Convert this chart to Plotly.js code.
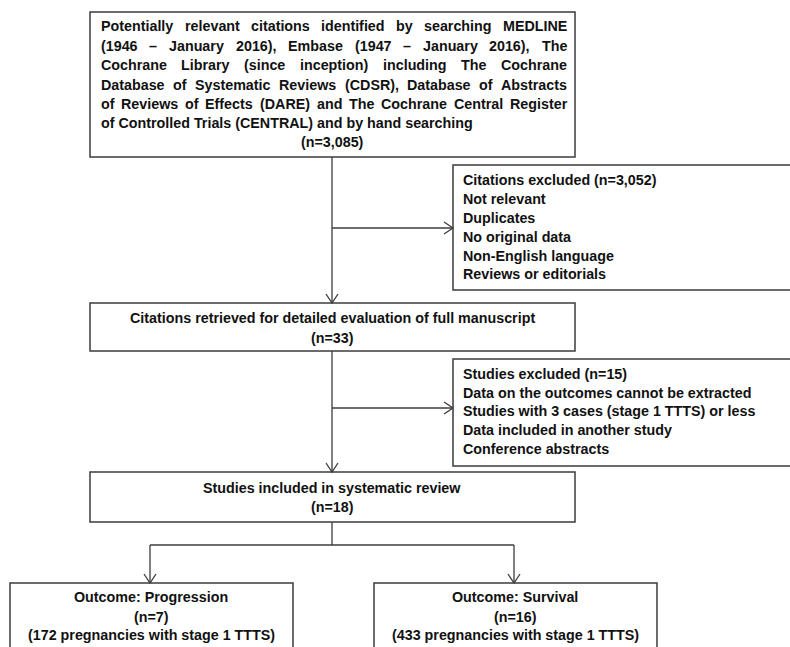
<!DOCTYPE html>
<html>
<head>
<meta charset="utf-8">
<script src="https://cdn.plot.ly/plotly-3.0.1.min.js"></script>
<style>html,body{margin:0;padding:0;background:#fff;}#chart{width:790px;height:647px;}</style>
</head>
<body>
<div id="chart"></div>
<script>
// ---- content (texts of the flow diagram) ----
const searchLines = [
  "Potentially relevant citations identified by searching MEDLINE",
  "(1946 \u2013 January 2016), Embase (1947 \u2013 January 2016), The",
  "Cochrane Library (since inception) including The Cochrane",
  "Database of Systematic Reviews (CDSR), Database of Abstracts",
  "of Reviews of Effects (DARE) and The Cochrane Central Register",
  "of Controlled Trials (CENTRAL) and by hand searching"
];
const searchCount = "(n=3,085)";
const excluded1 = [
  "Citations excluded (n=3,052)",
  "Not relevant",
  "Duplicates",
  "No original data",
  "Non-English language",
  "Reviews or editorials"
];
const retrieved = ["Citations retrieved for detailed evaluation of full manuscript", "(n=33)"];
const excluded2 = [
  "Studies excluded (n=15)",
  "Data on the outcomes cannot be extracted",
  "Studies with 3 cases (stage 1 TTTS) or less",
  "Data included in another study",
  "Conference abstracts"
];
const included = ["Studies included in systematic review", "(n=18)"];
const outcomeProg = ["Outcome: Progression", "(n=7)", "(172 pregnancies with stage 1 TTTS)"];
const outcomeSurv = ["Outcome: Survival", "(n=16)", "(433 pregnancies with stage 1 TTTS)"];

// ---- layout geometry (pixel-like coordinate system) ----
const FONT = "'Liberation Sans', Arimo, Arial, sans-serif";
const FS = 14.3;
const TXT = '#111111';
const LINE = '#3c3c3c';

const boxes = [
  {x0: 90, x1: 575, y0: 12, y1: 157},
  {x0: 453, x1: 800, y0: 165, y1: 290},
  {x0: 90, x1: 575, y0: 303, y1: 351},
  {x0: 453, x1: 800, y0: 359, y1: 466},
  {x0: 90, x1: 575, y0: 472, y1: 522},
  {x0: 10, x1: 293, y0: 583, y1: 660},
  {x0: 374, x1: 657, y0: 583, y1: 660}
];
const shapes = [];
boxes.forEach(b => shapes.push({type: 'rect', xref: 'x', yref: 'y', x0: b.x0, x1: b.x1, y0: b.y0, y1: b.y1,
  line: {color: LINE, width: 1.5}, fillcolor: 'rgba(0,0,0,0)'}));

function seg(x0, y0, x1, y1) {
  shapes.push({type: 'line', xref: 'x', yref: 'y', x0, y0, x1, y1, line: {color: LINE, width: 1.3}});
}
function headDown(x, y) {
  shapes.push({type: 'path', xref: 'x', yref: 'y', path: `M${x-6},${y-9} L${x},${y} L${x+6},${y-9}`, line: {color: LINE, width: 1.3}});
}
function headRight(x, y) {
  shapes.push({type: 'path', xref: 'x', yref: 'y', path: `M${x-9},${y-6} L${x},${y} L${x-9},${y+6}`, line: {color: LINE, width: 1.3}});
}
const cx = 332;
seg(cx, 157, cx, 303); headDown(cx, 303);
seg(cx, 228, 453, 228); headRight(453, 228);
seg(cx, 351, cx, 472); headDown(cx, 472);
seg(cx, 408, 453, 408); headRight(453, 408);
seg(cx, 522, cx, 545);
seg(150, 545, 514, 545);
seg(150, 545, 150, 583); headDown(150, 583);
seg(514, 545, 514, 583); headDown(514, 583);

// ---- annotations ----
const annotations = [];
function txt(s, x, y, anchor) {
  annotations.push({text: '<b>' + s + '</b>', x, y, xref: 'x', yref: 'y', showarrow: false,
    xanchor: anchor, yanchor: 'middle', borderpad: 0,
    font: {family: FONT, size: FS, color: TXT}});
}
// justified lines: measure words with canvas and spread them
const cv = document.createElement('canvas').getContext('2d');
cv.font = `bold ${FS}px ${FONT}`;
function justified(line, xL, xR, y) {
  const words = line.split(' ');
  const widths = words.map(w => cv.measureText(w).width);
  const total = widths.reduce((a, b) => a + b, 0);
  const gap = (xR - xL - total) / (words.length - 1);
  let x = xL;
  words.forEach((w, i) => { txt(w, x, y, 'left'); x += widths[i] + gap; });
}
const topY = [26, 45.5, 65, 84.5, 103.5, 122.5, 141.5];
searchLines.forEach((l, i) => {
  if (i < searchLines.length - 1) justified(l, 100, 566, topY[i]);
  else txt(l, 100, topY[i], 'left');
});
txt(searchCount, cx, topY[6], 'center');

const ex1Y = [180, 199, 218, 237, 255.5, 274];
excluded1.forEach((l, i) => txt(l, 462, ex1Y[i], 'left'));
const ex2Y = [374, 392.5, 411, 430, 448.5];
excluded2.forEach((l, i) => txt(l, 462, ex2Y[i], 'left'));

[318, 338].forEach((y, i) => txt(retrieved[i], cx, y, 'center'));
[488, 507].forEach((y, i) => txt(included[i], cx, y, 'center'));
const outY = [597, 617, 635];
outcomeProg.forEach((l, i) => txt(l, 151, outY[i], 'center'));
outcomeSurv.forEach((l, i) => txt(l, 515, outY[i], 'center'));

const layout = {
  width: 790, height: 647,
  margin: {l: 0, r: 0, t: 0, b: 0},
  paper_bgcolor: '#ffffff', plot_bgcolor: '#ffffff',
  xaxis: {range: [0, 790], visible: false, fixedrange: true},
  yaxis: {range: [647, 0], visible: false, fixedrange: true},
  shapes, annotations, showlegend: false
};
Plotly.newPlot('chart', [], layout, {staticPlot: true, displayModeBar: false});
</script>
</body>
</html>
